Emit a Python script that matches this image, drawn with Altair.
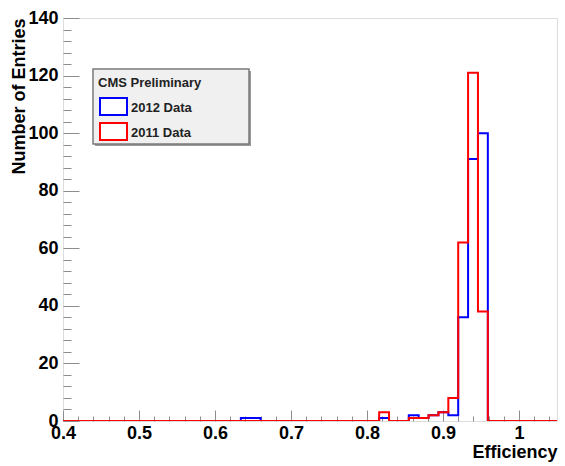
import altair as alt
import pandas as pd

# ---------------- data ----------------
x_min, x_max, n_bins = 0.4, 1.05, 50
series_names = ["2012 Data", "2011 Data"]
series_colors = ["#0000ff", "#ff0000"]

counts_2012 = [0, 0, 0, 0, 0, 0, 0, 0, 0, 0,
               0, 0, 0, 0, 0, 0, 0, 0, 1, 1,
               0, 0, 0, 0, 0, 0, 0, 0, 0, 0,
               0, 0, 1, 0, 0, 2, 1, 2, 3, 2,
               36, 91, 100, 0, 0, 0, 0, 0, 0, 0]
counts_2011 = [0, 0, 0, 0, 0, 0, 0, 0, 0, 0,
               0, 0, 0, 0, 0, 0, 0, 0, 0, 0,
               0, 0, 0, 0, 0, 0, 0, 0, 0, 0,
               0, 0, 3, 0, 0, 1, 1, 2, 3, 8,
               62, 121, 38, 0, 0, 0, 0, 0, 0, 0]

x_major = [0.4, 0.5, 0.6, 0.7, 0.8, 0.9, 1.0]
x_minor = [0.42, 0.44, 0.46, 0.48, 0.52, 0.54, 0.56, 0.58, 0.62, 0.64, 0.66, 0.68,
           0.72, 0.74, 0.76, 0.78, 0.82, 0.84, 0.86, 0.88, 0.92, 0.94, 0.96, 0.98,
           1.02, 1.04]
y_major = [0, 20, 40, 60, 80, 100, 120, 140]
y_minor = [4, 8, 12, 16, 24, 28, 32, 36, 44, 48, 52, 56, 64, 68, 72, 76,
           84, 88, 92, 96, 104, 108, 112, 116, 124, 128, 132, 136]


def step_frame(counts, name):
    w = (x_max - x_min) / n_bins
    edges = [x_min + k * w for k in range(n_bins)] + [x_max]
    vals = list(counts) + [counts[-1]]
    return pd.DataFrame({"edge": edges, "count": vals, "series": name})


df_2012 = step_frame(counts_2012, series_names[0])
df_2011 = step_frame(counts_2011, series_names[1])

FONT = "Liberation Sans"
GREY = "#8c8c8c"
W, H = 494, 403

x_scale = alt.Scale(domain=[x_min, x_max], nice=False, zero=False)
y_scale = alt.Scale(domain=[0, 140], nice=False)

x_main_axis = alt.Axis(
    orient="bottom", values=x_major, format="~g", ticks=False, domain=False, grid=False,
    labelFont=FONT, labelFontSize=18, labelFontWeight="bold", labelColor="black",
    labelPadding=3, labelFlush=False, labelOverlap=False,
    title="Efficiency", titleFont=FONT, titleFontSize=18, titleFontWeight="bold",
    titleColor="black", titleX=W, titleY=36, titleAlign="right", titleBaseline="alphabetic",
)
y_main_axis = alt.Axis(
    orient="left", values=y_major, ticks=False, domain=False, grid=False,
    labelFont=FONT, labelFontSize=18, labelFontWeight="bold", labelColor="black",
    labelPadding=5, labelFlush=False, labelOverlap=False,
    title="Number of Entries", titleFont=FONT, titleFontSize=18, titleFontWeight="bold",
    titleColor="black", titleX=-44, titleY=0, titleAngle=270, titleAlign="right",
    titleBaseline="middle",
)


def tick_axis(orient, values, size):
    return alt.Axis(orient=orient, values=values, labels=False, domain=False, grid=False,
                    ticks=True, tickSize=size, tickColor=GREY, tickWidth=1,
                    offset=-size, title=None)


def ghost(xa, ya):
    return alt.Chart(df_2012).mark_point(opacity=0).encode(
        x=alt.X("edge:Q", scale=x_scale, axis=xa),
        y=alt.Y("count:Q", scale=y_scale, axis=ya),
    )


ticks_major = ghost(tick_axis("bottom", x_major, 11), tick_axis("left", y_major, 16))
ticks_minor = ghost(tick_axis("bottom", x_minor, 5), tick_axis("left", y_minor, 8))

blue = alt.Chart(df_2012).mark_line(interpolate="step-after", strokeWidth=2, clip=True,
                                    color=series_colors[0]).encode(
    x=alt.X("edge:Q", scale=x_scale, axis=x_main_axis),
    y=alt.Y("count:Q", scale=y_scale, axis=y_main_axis),
)
red = alt.Chart(df_2011).mark_line(interpolate="step-after", strokeWidth=2, clip=True,
                                   color=series_colors[1]).encode(
    x=alt.X("edge:Q", scale=x_scale, axis=None),
    y=alt.Y("count:Q", scale=y_scale, axis=None),
)

# ---------------- legend (ROOT TLegend style) ----------------
one = pd.DataFrame({"a": [0]})
leg_shadow = alt.Chart(one).mark_rect(fill="#9a9a9a").encode(
    x=alt.value(32), x2=alt.value(188), y=alt.value(53), y2=alt.value(128))
leg_box = alt.Chart(one).mark_rect(fill="#f0f0f0", stroke="#7a7a7a", strokeWidth=1.5).encode(
    x=alt.value(30), x2=alt.value(186), y=alt.value(51), y2=alt.value(126))
leg_title = alt.Chart(one).mark_text(align="left", baseline="alphabetic", font=FONT,
                                     fontSize=13, fontWeight="bold", color="#222").encode(
    x=alt.value(35), y=alt.value(69), text=alt.value("CMS Preliminary"))

leg_layers = [leg_shadow, leg_box, leg_title]
for i, (name, col) in enumerate(zip(series_names, series_colors)):
    top = 80 + 25 * i
    leg_layers.append(alt.Chart(one).mark_rect(fill="white", stroke=col, strokeWidth=2).encode(
        x=alt.value(37), x2=alt.value(64), y=alt.value(top), y2=alt.value(top + 17)))
    leg_layers.append(alt.Chart(one).mark_text(align="left", baseline="alphabetic", font=FONT,
                                               fontSize=13, fontWeight="bold", color="#222").encode(
        x=alt.value(68), y=alt.value(top + 14), text=alt.value(name)))

chart = alt.layer(ticks_major, ticks_minor, blue, red, *leg_layers).resolve_axis(
    x="independent", y="independent"
).properties(
    width=W, height=H,
    autosize=alt.AutoSizeParams(type="none"),
    padding={"left": 63, "top": 18, "right": 8, "bottom": 45},
).configure_view(stroke=GREY, strokeWidth=2).configure(background="white")

chart.save("out.html", embed_options={"renderer": "svg", "actions": False})
